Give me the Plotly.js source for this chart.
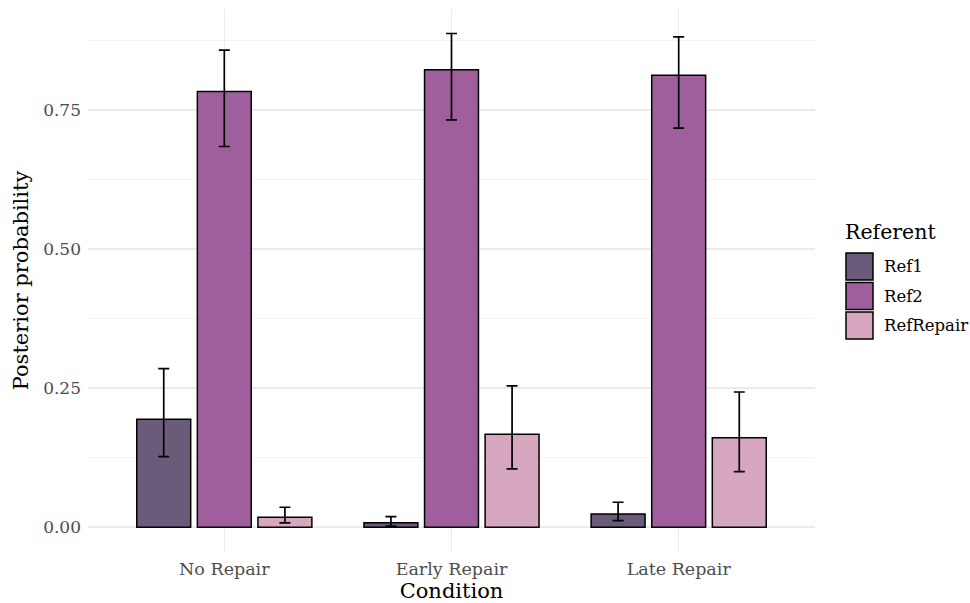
<!DOCTYPE html>
<html>
<head>
<meta charset="utf-8">
<script src="https://cdn.plot.ly/plotly-3.0.1.min.js"></script>
<style>html,body{margin:0;padding:0;background:#fff;}#chart{width:970px;height:603px;}</style>
</head>
<body>
<div id="chart"></div>
<script>
const conditions = ["No Repair", "Early Repair", "Late Repair"];
const referents = ["Ref1", "Ref2", "RefRepair"];
const colors = ["#6b5b7b", "#9f5f9c", "#d7a6bf"];

const ref1Mean = [0.194, 0.008, 0.024];
const ref1Upper = [0.285, 0.019, 0.045];
const ref1Lower = [0.127, 0.002, 0.012];

const ref2Mean = [0.783, 0.822, 0.812];
const ref2Upper = [0.857, 0.887, 0.881];
const ref2Lower = [0.684, 0.732, 0.717];

const repMean = [0.018, 0.167, 0.161];
const repUpper = [0.036, 0.254, 0.243];
const repLower = [0.008, 0.105, 0.100];

const yTickVals = [0, 0.25, 0.5, 0.75];
const yTickText = ["0.00", "0.25", "0.50", "0.75"];

const means = [ref1Mean, ref2Mean, repMean];
const uppers = [ref1Upper, ref2Upper, repUpper];
const lowers = [ref1Lower, ref2Lower, repLower];

const FONT = "DejaVu Serif, Liberation Serif, serif";

const traces = referents.map((name, i) => ({
  type: "bar",
  name: name,
  x: conditions,
  y: means[i],
  marker: {color: colors[i], line: {color: "#000000", width: 1.5}},
  error_y: {
    type: "data",
    symmetric: false,
    array: uppers[i].map((u, j) => u - means[i][j]),
    arrayminus: lowers[i].map((l, j) => means[i][j] - l),
    color: "#000000",
    thickness: 1.7,
    width: 5.5
  },
  showlegend: false,
  hoverinfo: "skip"
}));

// manual legend (ggplot-style large keys)
const shapes = [];
const annotations = [];
referents.forEach((name, i) => {
  const top = -244 - i * 29.5;
  shapes.push({
    type: "rect", xref: "paper", yref: "paper",
    xsizemode: "pixel", ysizemode: "pixel",
    xanchor: 1, yanchor: 1,
    x0: 31, x1: 58, y0: top, y1: top - 27,
    fillcolor: colors[i], line: {color: "#000000", width: 1.5}
  });
  annotations.push({
    xref: "paper", yref: "paper", x: 1, y: 1,
    xanchor: "left", yanchor: "middle",
    xshift: 67, yshift: top - 13.5,
    text: name, showarrow: false,
    font: {family: FONT, size: 16.5, color: "#000000"}
  });
});
annotations.push({
  xref: "paper", yref: "paper", x: 1, y: 1,
  xanchor: "left", yanchor: "middle",
  xshift: 28, yshift: -223,
  text: "Referent", showarrow: false,
  font: {family: FONT, size: 20.5, color: "#000000"}
});

const layout = {
  width: 970, height: 603,
  paper_bgcolor: "#ffffff", plot_bgcolor: "#ffffff",
  margin: {l: 88, r: 155, t: 9, b: 51},
  barmode: "group",
  bargap: 0.2,
  bargroupgap: 0.11,
  font: {family: FONT, color: "#000000"},
  xaxis: {
    type: "category",
    categoryorder: "array",
    categoryarray: conditions,
    range: [-0.6, 2.6],
    showgrid: true, gridcolor: "#ebebeb", gridwidth: 1.6,
    zeroline: false, showline: false, ticks: "",
    ticklabelstandoff: 4,
    tickfont: {family: FONT, size: 17.5, color: "#4d4d4d"},
    title: {text: "Condition", font: {family: FONT, size: 21, color: "#000000"}, standoff: 6}
  },
  yaxis: {
    range: [-0.0444, 0.931],
    tickvals: yTickVals, ticktext: yTickText,
    showgrid: true, gridcolor: "#ebebeb", gridwidth: 1.6,
    minor: {dtick: 0.125, tick0: 0, showgrid: true, gridcolor: "#f2f2f2", gridwidth: 0.9, ticks: ""},
    zeroline: false, showline: false, ticks: "",
    ticklabelstandoff: 6,
    tickfont: {family: FONT, size: 17, color: "#4d4d4d"},
    title: {text: "Posterior probability", font: {family: FONT, size: 21, color: "#000000"}, standoff: 8}
  },
  shapes: shapes,
  annotations: annotations
};

Plotly.newPlot("chart", traces, layout, {staticPlot: true, displayModeBar: false});
</script>
</body>
</html>
